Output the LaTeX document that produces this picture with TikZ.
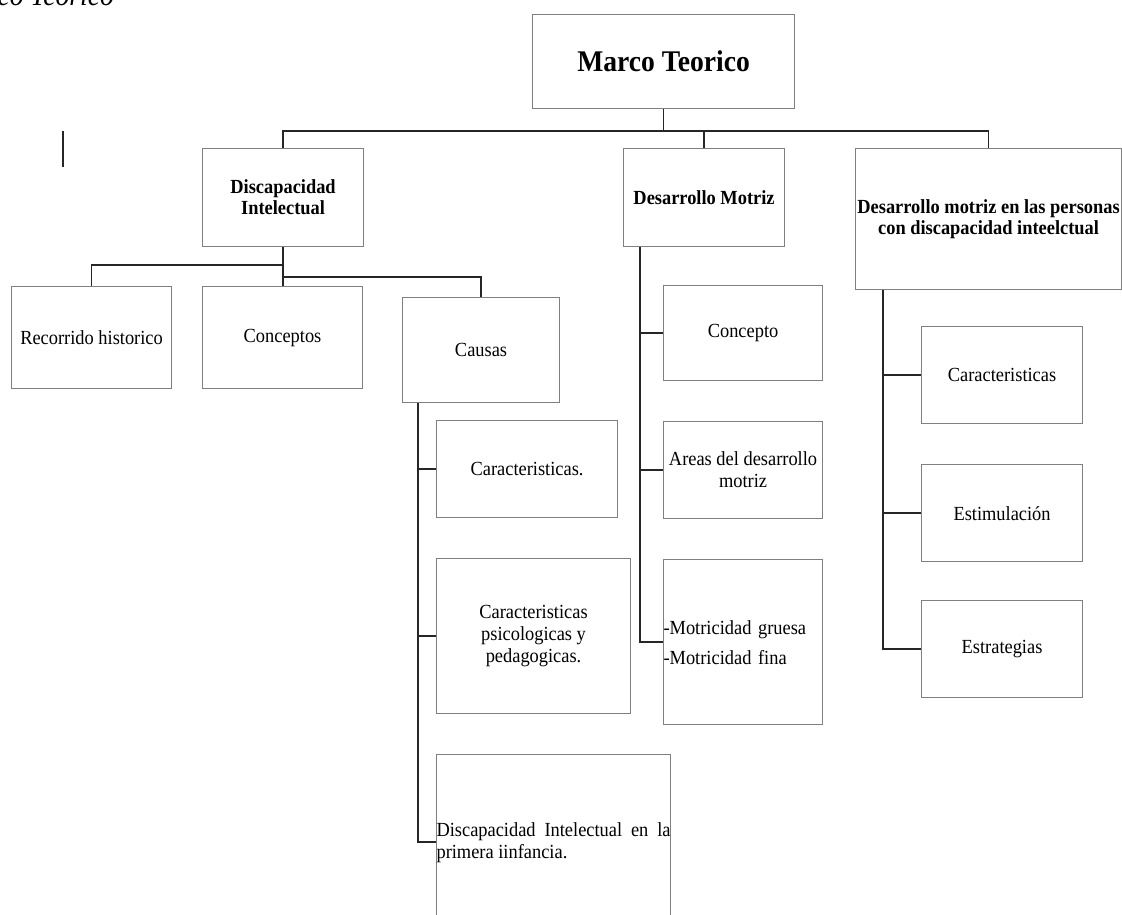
\documentclass[tikz,border=0pt]{standalone}
\usepackage{fontspec}
\setmainfont{Liberation Serif}[FakeStretch=0.92]
\usetikzlibrary{positioning}
\tikzset{
	>=latex,
}

\begin{document}
\begin{tikzpicture}[x=1pt,y=-1pt,
		box/.style={rectangle, draw=black!50, line width=1.1pt, inner sep=0pt, align=center, anchor=north west, font=\fontsize{20}{22}\selectfont},
		head/.style={box, font=\fontsize{20}{21}\selectfont\bfseries},
		link/.style={draw=black!85, line width=1.8pt},
	]
		\useasboundingbox (0,0) rectangle (1122,915);
		\node(cap)[anchor=base west, font=\fontsize{30}{30}\selectfont\itshape] at (-6,6) {co Teorico};
		\draw[link] (63,131) -- (63,167);

		\node(marco)[head, font=\fontsize{30}{32}\selectfont\bfseries, minimum width=262pt, minimum height=94pt] at (532,14) {Marco Teorico};
		\node(di)[head, minimum width=161pt, minimum height=98pt] at (202,148) {Discapacidad\\Intelectual};
		\node(dm)[head, minimum width=161pt, minimum height=98pt] at (623,148) {Desarrollo Motriz};
		\node(dp)[head, minimum width=266pt, minimum height=141pt] at (855,148) {Desarrollo motriz en las personas\\con discapacidad inteelctual};

		\node(rec)[box, minimum width=160pt, minimum height=102pt] at (11,286) {Recorrido historico};
		\node(con)[box, minimum width=160pt, minimum height=102pt] at (202,286) {Conceptos};
		\node(cau)[box, minimum width=157pt, minimum height=105pt] at (402,297) {Causas};
		\node(car1)[box, minimum width=181pt, minimum height=97pt] at (436,420) {Caracteristicas.};
		\node(psi)[box, below=40pt of car1.south west, anchor=north west, minimum width=194pt, minimum height=155pt] {Caracteristicas\\psicologicas y\\pedagogicas.};
		\node(inf)[box, below=40pt of psi.south west, anchor=north west, text width=234pt, minimum height=175pt, align=justify] {Discapacidad Intelectual en la\linebreak primera iinfancia.};

		\node(conc)[box, minimum width=159pt, minimum height=95pt] at (663,285) {Concepto};
		\node(areas)[box, below=40pt of conc.south west, anchor=north west, minimum width=159pt, minimum height=97pt] {Areas del desarrollo\\motriz};
		\node(motr)[box, below=40pt of areas.south west, anchor=north west, text width=159pt, minimum height=165pt, align=left] {-Motricidad gruesa\\[8pt]-Motricidad fina};

		\node(car2)[box, minimum width=161pt, minimum height=97pt] at (921,326) {Caracteristicas};
		\node(est)[box, below=40pt of car2.south west, anchor=north west, minimum width=161pt, minimum height=97pt] {Estimulación};
		\node(estr)[box, below=38pt of est.south west, anchor=north west, minimum width=161pt, minimum height=97pt] {Estrategias};

		% top level
		\draw[link] (marco.south) -- ++(0,22) coordinate(bus);
		\draw[link] (di.north) |- (bus) -| (dp.north);
		\draw[link] (dm.north) -- (dm.north |- bus);

		% discapacidad intelectual
		\draw[link] (di.south) -- (di.south |- con.north);
		\draw[link] (di.south) ++(0,18) -| (rec.north);
		\draw[link] (di.south) ++(0,30) -| (cau.north);

		% causas
		\draw[link] (cau.south west) ++(16,0) coordinate(k) |- (inf.west);
		\draw[link] (k |- car1.west) -- (car1.west);
		\draw[link] (k |- psi.west) -- (psi.west);

		% desarrollo motriz
		\draw[link] (dm.south west) ++(17,0) coordinate(k) |- (motr.west);
		\draw[link] (k |- conc.west) -- (conc.west);
		\draw[link] (k |- areas.west) -- (areas.west);

		% personas con discapacidad
		\draw[link] (dp.south west) ++(28,0) coordinate(k) |- (estr.west);
		\draw[link] (k |- car2.west) -- (car2.west);
		\draw[link] (k |- est.west) -- (est.west);
	\end{tikzpicture}
\end{document}
